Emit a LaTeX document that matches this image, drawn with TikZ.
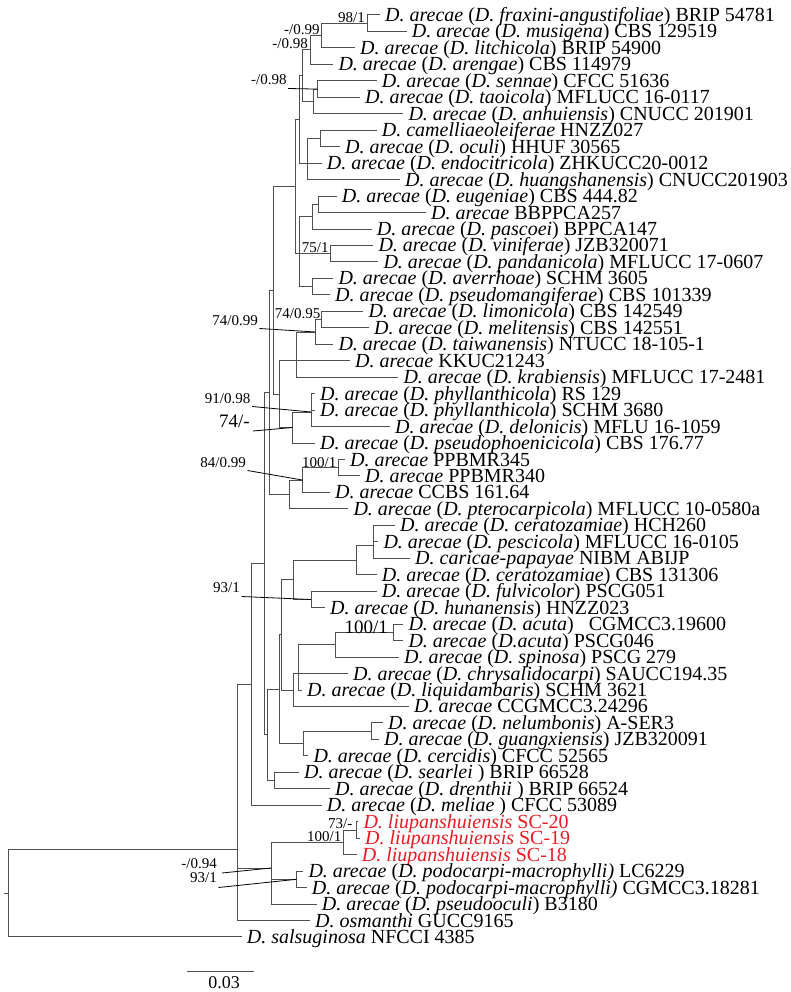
\documentclass[tikz,border=0pt]{standalone}
\usepackage{fontspec}
\setmainfont{Liberation Serif}
\definecolor{brc}{RGB}{80,80,80}
\definecolor{redtx}{RGB}{232,28,36}
\tikzset{
 br/.style={draw=brc, line width=1pt},
 leaflbl/.style={anchor=base west, inner sep=0pt, text height=11pt, text depth=2pt, font=\fontsize{20}{20}\selectfont},
 supl/.style={anchor=base east, inner sep=0pt, text height=9pt, text depth=1pt, font=\fontsize{15}{15}\selectfont},
 suplbig/.style={anchor=base east, inner sep=0pt, text height=11pt, text depth=1pt, font=\fontsize{19}{19}\selectfont},
 leadln/.style={draw=black, line width=0.8pt},
}
\newcommand\Dar{\textit{D. arecae}}
\newcommand\spn[1]{(\textit{D. #1})}
\newcommand\mkleaf[3]{%
  \pgfmathsetmacro\ly{15+(#1-1)*16.464}%
  \coordinate (l#1) at ({#2-5},\ly);%
  \node[leaflbl] (t#1) at (#2,{\ly+6.5}) {#3};%
}
\begin{document}
\begin{tikzpicture}[x=1pt,y=-1pt]
\useasboundingbox (0,0) rectangle (790,992);
% leaves
\mkleaf{1}{385}{\Dar\ \spn{fraxini-angustifoliae} BRIP 54781}
\mkleaf{2}{411.7}{\Dar\ \spn{musigena} CBS 129519}
\mkleaf{3}{360}{\Dar\ \spn{litchicola} BRIP 54900}
\mkleaf{4}{338.3}{\Dar\ \spn{arengae} CBS 114979}
\mkleaf{5}{381.7}{\Dar\ \spn{sennae} CFCC 51636}
\mkleaf{6}{365}{\Dar\ \spn{taoicola} MFLUCC 16-0117}
\mkleaf{7}{408.3}{\Dar\ \spn{anhuiensis} CNUCC 201901}
\mkleaf{8}{381.7}{\textit{D. camelliaeoleiferae} HNZZ027}
\mkleaf{9}{345}{\Dar\ \spn{oculi} HHUF 30565}
\mkleaf{10}{326.7}{\Dar\ \spn{endocitricola} ZHKUCC20-0012}
\mkleaf{11}{405}{\Dar\ \spn{huangshanensis} CNUCC201903}
\mkleaf{12}{341.7}{\Dar\ \spn{eugeniae} CBS 444.82}
\mkleaf{13}{431}{\Dar\ BBPPCA257}
\mkleaf{14}{376.7}{\Dar\ \spn{pascoei} BPPCA147}
\mkleaf{15}{378.3}{\Dar\ \spn{viniferae} JZB320071}
\mkleaf{16}{383.3}{\Dar\ \spn{pandanicola} MFLUCC 17-0607}
\mkleaf{17}{338.3}{\Dar\ \spn{averrhoae} SCHM 3605}
\mkleaf{18}{335}{\Dar\ \spn{pseudomangiferae} CBS 101339}
\mkleaf{19}{368.3}{\Dar\ \spn{limonicola} CBS 142549}
\mkleaf{20}{374}{\Dar\ \spn{melitensis} CBS 142551}
\mkleaf{21}{338.3}{\Dar\ \spn{taiwanensis} NTUCC 18-105-1}
\mkleaf{22}{355}{\Dar\ KKUC21243}
\mkleaf{23}{403.3}{\Dar\ \spn{krabiensis} MFLUCC 17-2481}
\mkleaf{24}{320}{\Dar\ \spn{phyllanthicola} RS 129}
\mkleaf{25}{320}{\Dar\ \spn{phyllanthicola} SCHM 3680}
\mkleaf{26}{395}{\Dar\ \spn{delonicis} MFLU 16-1059}
\mkleaf{27}{320}{\Dar\ \spn{pseudophoenicicola} CBS 176.77}
\mkleaf{28}{350}{\Dar\ PPBMR345}
\mkleaf{29}{365}{\Dar\ PPBMR340}
\mkleaf{30}{335}{\Dar\ CCBS 161.64}
\mkleaf{31}{353.3}{\Dar\ \spn{pterocarpicola} MFLUCC 10-0580a}
\mkleaf{32}{400}{\Dar\ \spn{ceratozamiae} HCH260}
\mkleaf{33}{383.3}{\Dar\ \spn{pescicola} MFLUCC 16-0105}
\mkleaf{34}{415}{\textit{D. caricae-papayae} NIBM ABIJP}
\mkleaf{35}{381.7}{\Dar\ \spn{ceratozamiae} CBS 131306}
\mkleaf{36}{381.7}{\Dar\ \spn{fulvicolor} PSCG051}
\mkleaf{37}{330}{\Dar\ \spn{hunanensis} HNZZ023}
\mkleaf{38}{408.3}{\Dar\ \spn{acuta}\hspace{0.5em} CGMCC3.19600}
\mkleaf{39}{408.3}{\Dar\ (\textit{D.acuta}) PSCG046}
\mkleaf{40}{404}{\Dar\ \spn{spinosa} PSCG 279}
\mkleaf{41}{353}{\Dar\ \spn{chrysalidocarpi} SAUCC194.35}
\mkleaf{42}{307}{\Dar\ \spn{liquidambaris} SCHM 3621}
\mkleaf{43}{414}{\Dar\ CCGMCC3.24296}
\mkleaf{44}{388}{\Dar\ \spn{nelumbonis} A-SER3}
\mkleaf{45}{384}{\Dar\ \spn{guangxiensis} JZB320091}
\mkleaf{46}{313.3}{\Dar\ \spn{cercidis} CFCC 52565}
\mkleaf{47}{304}{\Dar\ (\textit{D. searlei} ) BRIP 66528}
\mkleaf{48}{335}{\Dar\ (\textit{D. drenthii} ) BRIP 66524}
\mkleaf{49}{326.7}{\Dar\ (\textit{D. meliae} ) CFCC 53089}
\mkleaf{50}{363.3}{\color{redtx}\textit{D. liupanshuiensis} SC-20}
\mkleaf{51}{365}{\color{redtx}\textit{D. liupanshuiensis} SC-19}
\mkleaf{52}{361.7}{\color{redtx}\textit{D. liupanshuiensis} SC-18}
\mkleaf{53}{308.3}{\Dar\ (\textit{D. podocarpi-macrophylli)} LC6229}
\mkleaf{54}{311.7}{\Dar\ (\textit{D. podocarpi-macrophylli)} CGMCC3.18281}
\mkleaf{55}{321.7}{\Dar\ \spn{pseudooculi} B3180}
\mkleaf{56}{315}{\textit{D. osmanthi} GUCC9165}
\mkleaf{57}{246.7}{\textit{D. salsuginosa} NFCCI 4385}
% internal nodes
\coordinate (A) at (367,23.2);
\coordinate (B) at (321.7,35.6);
\coordinate (C) at (310,50);
\coordinate (D) at (317.7,89.1);
\coordinate (E) at (313,101.5);
\coordinate (F) at (302.7,75.7);
\coordinate (G) at (320,138.5);
\coordinate (H) at (307,163.2);
\coordinate (I) at (299,119.5);
\coordinate (K1) at (318,204.4);
\coordinate (K2) at (312,216.7);
\coordinate (K3) at (330.7,253.7);
\coordinate (K4) at (312,286.7);
\coordinate (K5) at (299,253.7);
\coordinate (J) at (295,186.6);
\coordinate (L0) at (321.7,319.6);
\coordinate (L1) at (315.5,332);
\coordinate (L2) at (296.5,360.7);
\coordinate (M1) at (311,412);
\coordinate (M2) at (292.5,427.5);
\coordinate (L3) at (279.3,394.1);
\coordinate (Q) at (273,290.4);
\coordinate (N100) at (338,467.8);
\coordinate (R1) at (302.7,480.1);
\coordinate (R2) at (289.3,494.5);
\coordinate (P) at (269.5,392.4);
\coordinate (V1) at (373.3,545);
\coordinate (V2) at (356.7,560);
\coordinate (W) at (311,599.5);
\coordinate (U1) at (293.5,579.7);
\coordinate (NB) at (393.3,632.4);
\coordinate (X1) at (335,644.7);
\coordinate (X2) at (298.3,673.5);
\coordinate (X3) at (293.3,690);
\coordinate (U2) at (281.7,634.9);
\coordinate (Y1) at (371.7,731.2);
\coordinate (Y2) at (303,743.5);
\coordinate (Z) at (279,689.2);
\coordinate (AA) at (274.3,780.5);
\coordinate (BB) at (267,734.9);
\coordinate (S) at (264,563.6);
\coordinate (T) at (251,684.4);
\coordinate (N73) at (356,830);
\coordinate (DD) at (343.3,842.3);
\coordinate (EE) at (296.5,879.3);
\coordinate (CC) at (271,868);
\coordinate (R0) at (237.7,849.3);
\coordinate (root) at (8.3,893.2);
\coordinate (rstub) at (4,893.2);
% branches
\draw[br] (A) |- (l1); \draw[br] (A) |- (l2);
\draw[br] (B) |- (A); \draw[br] (B) |- (l3);
\draw[br] (C) |- (B); \draw[br] (C) |- (l4);
\draw[br] (D) |- (l5); \draw[br] (D) |- (l6);
\draw[br] (E) |- (D); \draw[br] (E) |- (l7);
\draw[br] (F) |- (C); \draw[br] (F) |- (E);
\draw[br] (G) |- (l8); \draw[br] (G) |- (l9);
\draw[br] (H) |- (G); \draw[br] (H) |- (l10); \draw[br] (H) |- (l11);
\draw[br] (I) |- (F); \draw[br] (I) |- (H);
\draw[br] (K1) |- (l12); \draw[br] (K1) |- (l13);
\draw[br] (K2) |- (K1); \draw[br] (K2) |- (l14);
\draw[br] (K3) |- (l15); \draw[br] (K3) |- (l16);
\draw[br] (K4) |- (l17); \draw[br] (K4) |- (l18);
\draw[br] (K5) |- (K2); \draw[br] (K5) |- (K3); \draw[br] (K5) |- (K4);
\draw[br] (J) |- (I); \draw[br] (J) |- (K5);
\draw[br] (L0) |- (l19); \draw[br] (L0) |- (l20);
\draw[br] (L1) |- (L0); \draw[br] (L1) |- (l21);
\draw[br] (L2) |- (L1); \draw[br] (L2) |- (l22); \draw[br] (L2) |- (l23);
\draw[br] (M1) |- (l24); \draw[br] (M1) |- (l25); \draw[br] (M1) |- (l26);
\draw[br] (M2) |- (M1); \draw[br] (M2) |- (l27);
\draw[br] (L3) |- (L2); \draw[br] (L3) |- (M2);
\draw[br] (Q) |- (J); \draw[br] (Q) |- (L3);
\draw[br] (N100) |- (l28); \draw[br] (N100) |- (l29);
\draw[br] (R1) |- (N100); \draw[br] (R1) |- (l30);
\draw[br] (R2) |- (R1); \draw[br] (R2) |- (l31);
\draw[br] (P) |- (Q); \draw[br] (P) |- (R2);
\draw[br] (V1) |- (l32); \draw[br] (V1) |- (l33); \draw[br] (V1) |- (l34);
\draw[br] (V2) |- (V1); \draw[br] (V2) |- (l35);
\draw[br] (W) |- (l36); \draw[br] (W) |- (l37);
\draw[br] (U1) |- (V2); \draw[br] (U1) |- (W);
\draw[br] (NB) |- (l38); \draw[br] (NB) |- (l39);
\draw[br] (X1) |- (NB); \draw[br] (X1) |- (l40);
\draw[br] (X2) |- (X1); \draw[br] (X2) |- (l41); \draw[br] (X2) |- (l42);
\draw[br] (X3) |- (X2); \draw[br] (X3) |- (l43);
\draw[br] (U2) |- (U1); \draw[br] (U2) |- (X3);
\draw[br] (Y1) |- (l44); \draw[br] (Y1) |- (l45);
\draw[br] (Y2) |- (Y1); \draw[br] (Y2) |- (l46);
\draw[br] (Z) |- (U2); \draw[br] (Z) |- (Y2);
\draw[br] (AA) |- (l47); \draw[br] (AA) |- (l48);
\draw[br] (BB) |- (Z); \draw[br] (BB) |- (AA);
\draw[br] (S) |- (P); \draw[br] (S) |- (BB);
\draw[br] (T) |- (S); \draw[br] (T) |- (l49);
\draw[br] (N73) |- (l50); \draw[br] (N73) |- (l51);
\draw[br] (DD) |- (N73); \draw[br] (DD) |- (l52);
\draw[br] (EE) |- (l53); \draw[br] (EE) |- (l54);
\draw[br] (CC) |- (DD); \draw[br] (CC) |- (EE); \draw[br] (CC) |- (l55);
\draw[br] (R0) |- (T); \draw[br] (R0) |- (CC); \draw[br] (R0) |- (l56);
\draw[br] (root) |- (R0); \draw[br] (root) |- (l57);
\draw[br] (rstub) -- (root);
% support values on branches
\node[supl] (sA) at (365,22.2) {98/1};
\node[supl] (sB) at (319.7,34.6) {-/0.99};
\node[supl] (sC) at (308,49) {-/0.98};
\node[supl] (sK3) at (328.7,252.7) {75/1};
\node[supl] (sL0) at (320.5,318.6) {74/0.95};
\node[supl] (sN100) at (336.5,467.5) {100/1};
\node[suplbig] (sNB) at (388,633) {100/1};
\node[supl] (sN73) at (352.5,828.5) {73/-};
\node[supl] (sDD) at (341.5,841.5) {100/1};
% support values with leaders
\node[supl] (sD) at (286.7,85) {-/0.98};
\draw[leadln] ([xshift=1.5pt,yshift=-3.5pt]sD.base east) -- (D);
\node[supl] (sL1) at (258,325) {74/0.99};
\draw[leadln] ([xshift=1.5pt,yshift=-3.5pt]sL1.base east) -- (L1);
\node[supl] (sM1) at (250.5,403) {91/0.98};
\draw[leadln] ([xshift=1.5pt,yshift=-3.5pt]sM1.base east) -- (M1);
\node[suplbig] (sM2) at (250,427) {74/-};
\draw[leadln] ([xshift=3pt,yshift=-4pt]sM2.base east) -- (M2);
\node[supl] (sR1) at (246,467) {84/0.99};
\draw[leadln] ([xshift=1.5pt,yshift=-3.5pt]sR1.base east) -- (R1);
\node[supl] (sW) at (240,592) {93/1};
\draw[leadln] ([xshift=1.5pt,yshift=-4.5pt]sW.base east) -- (W);
\node[supl] (sCC) at (217,868) {-/0.94};
\draw[leadln] ([xshift=5pt,yshift=-5pt]sCC.base east) -- (CC);
\node[supl] (sEE) at (217,882) {93/1};
\draw[leadln] ([xshift=1.5pt,yshift=-5.5pt]sEE.base east) -- (EE);
% scale bar
\coordinate (sb1) at (186.7,971.7);
\coordinate (sb2) at (254,971.7);
\draw[br] (sb1) -- (sb2);
\node[anchor=base, inner sep=0pt, font=\fontsize{18}{18}\selectfont] (sbl) at (224,988) {0.03};
\end{tikzpicture}
\end{document}
